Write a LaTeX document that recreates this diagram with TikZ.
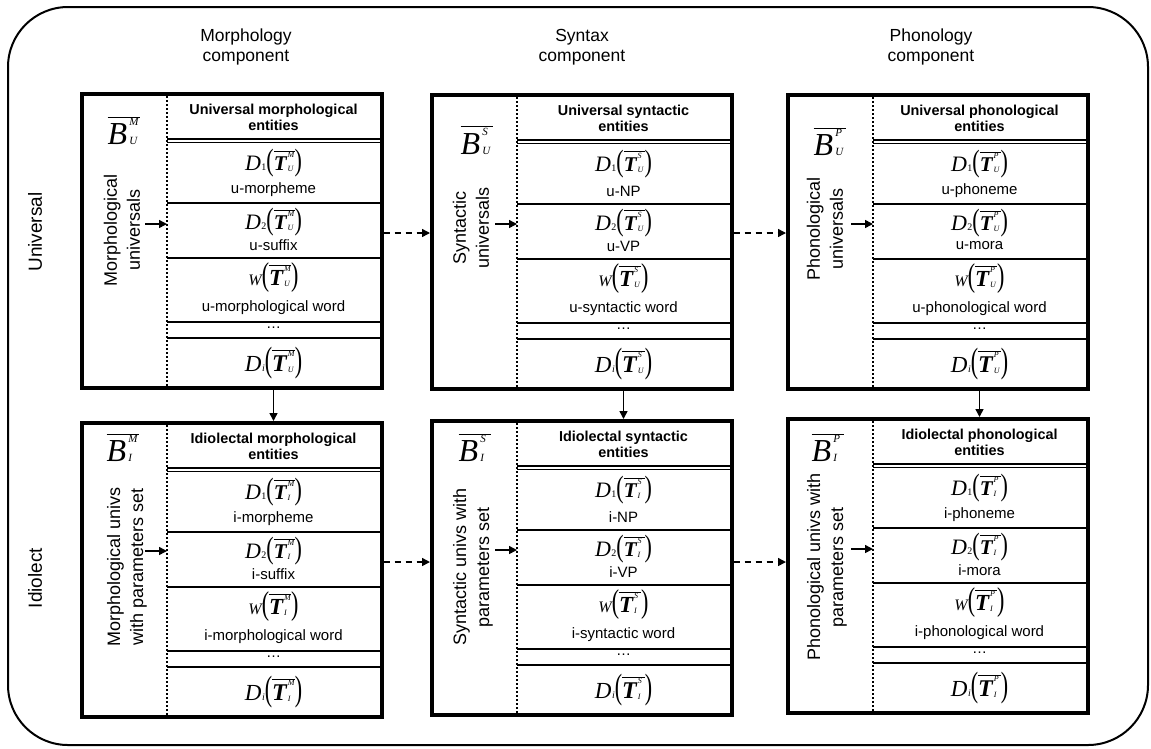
\documentclass[tikz,border=0pt]{standalone}
\usepackage{fontspec}
\setmainfont{Liberation Sans}
\newfontfamily\tms{Liberation Serif}
\usetikzlibrary{arrows.meta}

\tikzset{
 frame/.style={draw, line width=3.5pt, minimum width=300pt, minimum height=294pt, anchor=north west, inner sep=0pt},
 dotline/.style={line width=2pt, dash pattern=on 2pt off 2pt},
 rowline/.style={line width=1.5pt},
 hdr/.style={font=\fontsize{14.4}{16.5}\selectfont\bfseries, align=center, inner sep=0pt},
 lbl/.style={font=\fontsize{15}{16}\selectfont, inner sep=0pt},
 fml/.style={font=\fontsize{21}{21}\selectfont, inner sep=0pt},
 bsym/.style={font=\fontsize{32}{32}\selectfont, inner sep=0pt},
 rot/.style={font=\fontsize{18}{23}\selectfont, align=center, rotate=90, inner sep=0pt},
 colhead/.style={font=\fontsize{17.5}{19.5}\selectfont, align=center, inner sep=0pt},
 side/.style={font=\fontsize{19}{19}\selectfont, rotate=90, inner sep=0pt},
 arr/.style={line width=1.5pt, -{Triangle[length=8pt,width=8pt]}},
 darr/.style={arr, dash pattern=on 6pt off 5pt},
 outer/.style={line width=2pt, rounded corners=60pt},
}

% T with overline: #1 size, #2 sup, #3 sub
\newcommand{\Tsym}[3]{$\overline{\hbox{\tms\bfseries\itshape\fontsize{#1}{#1}\selectfont T\kern1pt\makebox[7pt][l]{\rlap{\raisebox{0.62em}{\fontsize{8}{8}\selectfont\mdseries #2}}\raisebox{-1pt}{\fontsize{8}{8}\selectfont\mdseries #3}}}}$}
% scaled parentheses: #1 vertical factor
\newcommand{\LP}[1]{\scalebox{1}[#1]{\tms\fontsize{22}{22}\selectfont(}}
\newcommand{\RP}[1]{\scalebox{1}[#1]{\tms\fontsize{22}{22}\selectfont)}}
\newcommand{\Dfm}[3]{{\tms\itshape\fontsize{22}{22}\selectfont D}\kern0.5pt\raisebox{-0.5pt}{\tms\fontsize{10}{10}\selectfont #1}\LP{1.4}\Tsym{21}{#2}{#3}\RP{1.4}}
\newcommand{\Difm}[2]{{\tms\itshape\fontsize{23}{23}\selectfont D}\kern0.5pt\raisebox{-0.5pt}{\tms\itshape\fontsize{10}{10}\selectfont i}\LP{1.6}\Tsym{24}{#1}{#2}\RP{1.6}}
\newcommand{\Wfm}[2]{{\tms\itshape\fontsize{16}{16}\selectfont W}\LP{1.5}\Tsym{23}{#1}{#2}\RP{1.5}}
\newcommand{\Bfm}[2]{$\overline{\hbox{\tms\itshape\fontsize{32}{32}\selectfont B\kern2pt\makebox[11pt][l]{\rlap{\raisebox{19pt}{\fontsize{11}{11}\selectfont #1}}\fontsize{11}{11}\selectfont #2}}}$}

% #1 name, #2 shift, #3 header, #4 sup, #5 sub, #6 rotated text, #7-#9 labels
\newcommand{\mybox}[9]{%
\begin{scope}[shift={#2}]
 \node[frame] (#1) at (0,0) {};
 \coordinate (#1dt) at (87,0);
 \coordinate (#1db) at (87,294);
 \coordinate (#1c) at (193.5,0);
 \draw[dotline] (#1dt) -- (#1db);
 \draw[line width=2pt] (87,47) -- (300,47);
 \draw[line width=1pt] (87,50.5) -- (300,50.5);
 \foreach \yy in {111,166,230,246} \draw[rowline] (87,\yy) -- (300,\yy);
 \node[hdr] (#1h) at (193.5,25.5) {#3};
 \node[fml] (#1f1) at (193.5,71) {\Dfm{1}{#4}{#5}};
 \node[lbl] (#1l1) at (193.5,98) {#7};
 \node[fml] (#1f2) at (193.5,130) {\Dfm{2}{#4}{#5}};
 \node[lbl] (#1l2) at (193.5,153) {#8};
 \node[fml] (#1f3) at (193.5,186) {\Wfm{#4}{#5}};
 \node[lbl] (#1l3) at (193.5,216) {#9};
 \node[lbl] (#1dots) at (193.5,236) {…};
 \node[fml] (#1f4) at (193.5,271) {\Difm{#4}{#5}};
 \node[bsym] (#1b) at \Bpos {\Bfm{#4}{#5}};
 \node[rot] (#1r) at \Rpos {#6};
 \coordinate (#1a) at (65,\Ay);
 \draw[arr] (#1a) -- (#1a -| #1dt);
\end{scope}}

\begin{document}
\begin{tikzpicture}[x=1pt,y=-1pt]
\useasboundingbox (0,0) rectangle (1151,748);
\draw[outer] (8,7) rectangle (1148,745);

\node[colhead] (ch1) at (246,47) {Morphology\\component};
\node[colhead] (ch2) at (582,47) {Syntax\\component};
\node[colhead] (ch3) at (931,47) {Phonology\\component};
\node[side] (s1) at (35,232) {Universal};
\node[side] (s2) at (35,578) {Idiolect};

\def\Bpos{(44,38.5)}\def\Rpos{(42,138)}\def\Ay{132}
\mybox{b1}{(80,92)}{Universal morphological\\entities}{M}{U}{Morphological\\universals}{u-morpheme}{u-suffix}{u-morphological word}
\def\Bpos{(47,47)}\def\Rpos{(41,135)}\def\Ay{131}
\mybox{b2}{(430,93)}{Universal syntactic\\entities}{S}{U}{Syntactic\\universals}{u-NP}{u-VP}{u-syntactic word}
\def\Bpos{(44,48.5)}\def\Rpos{(39,136)}\def\Ay{131}
\mybox{b3}{(786,93)}{Universal phonological\\entities}{P}{U}{Phonological\\universals}{u-phoneme}{u-mora}{u-phonological word}
\def\Bpos{(43,26.5)}\def\Rpos{(47,146)}\def\Ay{130}
\mybox{b4}{(80,421)}{Idiolectal morphological\\entities}{M}{I}{Morphological univs\\with parameters set}{i-morpheme}{i-suffix}{i-morphological word}
\def\Bpos{(45,28.5)}\def\Rpos{(43,148)}\def\Ay{131}
\mybox{b5}{(430,419)}{Idiolectal syntactic\\entities}{S}{I}{Syntactic univs with\\parameters set}{i-NP}{i-VP}{i-syntactic word}
\def\Bpos{(42,30.5)}\def\Rpos{(41,150)}\def\Ay{132}
\mybox{b6}{(786,417)}{Idiolectal phonological\\entities}{P}{I}{Phonological univs with\\parameters set}{i-phoneme}{i-mora}{i-phonological word}

\coordinate (mt) at (600,233);
\coordinate (mb) at (600,562);
\draw[darr] (b1.east |- mt) -- (b2.west |- mt);
\draw[darr] (b2.east |- mt) -- (b3.west |- mt);
\draw[darr] (b4.east |- mb) -- (b5.west |- mb);
\draw[darr] (b5.east |- mb) -- (b6.west |- mb);
\draw[arr] (b1.south -| b1c) -- (b4.north -| b1c);
\draw[arr] (b2.south -| b2c) -- (b5.north -| b2c);
\draw[arr] (b3.south -| b3c) -- (b6.north -| b3c);
\end{tikzpicture}
\end{document}
